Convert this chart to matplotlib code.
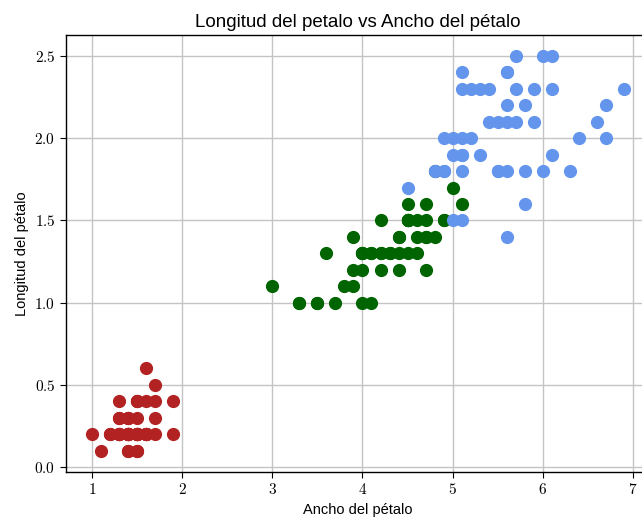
import numpy as np
import matplotlib
matplotlib.use("Agg")
import matplotlib.pyplot as plt
from matplotlib.ticker import FuncFormatter

plt.rcParams['font.family'] = ['Liberation Sans', 'DejaVu Sans']
plt.rcParams['mathtext.fontset'] = 'cm'

# iris: largo y ancho del petalo
setosa_x = [1.4, 1.4, 1.3, 1.5, 1.4, 1.7, 1.4, 1.5, 1.4, 1.5, 1.5, 1.6, 1.4, 1.1, 1.2, 1.5, 1.3, 1.4, 1.7, 1.5,
            1.7, 1.5, 1.0, 1.7, 1.9, 1.6, 1.6, 1.5, 1.4, 1.6, 1.6, 1.5, 1.5, 1.4, 1.5, 1.2, 1.3, 1.4, 1.3, 1.5,
            1.3, 1.3, 1.3, 1.6, 1.9, 1.4, 1.6, 1.4, 1.5, 1.4]
setosa_y = [0.2, 0.2, 0.2, 0.2, 0.2, 0.4, 0.3, 0.2, 0.2, 0.1, 0.2, 0.2, 0.1, 0.1, 0.2, 0.4, 0.4, 0.3, 0.3, 0.3,
            0.2, 0.4, 0.2, 0.5, 0.2, 0.2, 0.4, 0.2, 0.2, 0.2, 0.2, 0.4, 0.1, 0.2, 0.2, 0.2, 0.2, 0.1, 0.2, 0.2,
            0.3, 0.3, 0.2, 0.6, 0.4, 0.3, 0.2, 0.2, 0.2, 0.2]
versicolor_x = [4.7, 4.5, 4.9, 4.0, 4.6, 4.5, 4.7, 3.3, 4.6, 3.9, 3.5, 4.2, 4.0, 4.7, 3.6, 4.4, 4.5, 4.1, 4.5, 3.9,
                4.8, 4.0, 4.9, 4.7, 4.3, 4.4, 4.8, 5.0, 4.5, 3.5, 3.8, 3.7, 3.9, 5.1, 4.5, 4.5, 4.7, 4.4, 4.1, 4.0,
                4.4, 4.6, 4.0, 3.3, 4.2, 4.2, 4.2, 4.3, 3.0, 4.1]
versicolor_y = [1.4, 1.5, 1.5, 1.3, 1.5, 1.3, 1.6, 1.0, 1.3, 1.4, 1.0, 1.5, 1.0, 1.4, 1.3, 1.4, 1.5, 1.0, 1.5, 1.1,
                1.8, 1.3, 1.5, 1.2, 1.3, 1.4, 1.4, 1.7, 1.5, 1.0, 1.1, 1.0, 1.2, 1.6, 1.5, 1.6, 1.5, 1.3, 1.3, 1.3,
                1.2, 1.4, 1.2, 1.0, 1.3, 1.2, 1.3, 1.3, 1.1, 1.3]
virginica_x = [6.0, 5.1, 5.9, 5.6, 5.8, 6.6, 4.5, 6.3, 5.8, 6.1, 5.1, 5.3, 5.5, 5.0, 5.1, 5.3, 5.5, 6.7, 6.9, 5.0,
               5.7, 4.9, 6.7, 4.9, 5.7, 6.0, 4.8, 4.9, 5.6, 5.8, 6.1, 6.4, 5.6, 5.1, 5.6, 6.1, 5.6, 5.5, 4.8, 5.4,
               5.6, 5.1, 5.1, 5.9, 5.7, 5.2, 5.0, 5.2, 5.4, 5.1]
virginica_y = [2.5, 1.9, 2.1, 1.8, 2.2, 2.1, 1.7, 1.8, 1.8, 2.5, 2.0, 1.9, 2.1, 2.0, 2.4, 2.3, 1.8, 2.2, 2.3, 1.5,
               2.3, 2.0, 2.0, 1.8, 2.1, 1.8, 1.8, 1.8, 2.1, 1.6, 1.9, 2.0, 2.2, 1.5, 1.4, 2.3, 2.4, 1.8, 1.8, 2.1,
               2.4, 2.3, 1.9, 2.3, 2.5, 2.3, 1.9, 2.0, 2.3, 1.8]

fig = plt.figure(figsize=(6.42, 5.2), dpi=100)
ax = fig.add_axes([0.1023, 0.0923, 0.911, 0.8404])

ax.scatter(setosa_x, setosa_y, s=72, color='firebrick', zorder=3)
ax.scatter(versicolor_x, versicolor_y, s=72, color='darkgreen', zorder=3)
ax.scatter(virginica_x, virginica_y, s=72, color='cornflowerblue', zorder=3)

ax.set_xlim(0.708, 7.195)
ax.set_ylim(-0.03, 2.628)
ax.set_xticks([1, 2, 3, 4, 5, 6, 7])
ax.set_yticks([0.0, 0.5, 1.0, 1.5, 2.0, 2.5])
ax.xaxis.set_major_formatter(FuncFormatter(lambda v, p: '$%d$' % v))
ax.yaxis.set_major_formatter(FuncFormatter(lambda v, p: '$%.1f$' % v))
ax.tick_params(labelsize=11, direction='out', length=4, color='black')
ax.grid(True, color='#c4c4c4', linewidth=1, zorder=0)
ax.set_axisbelow(True)
for sp in ax.spines.values():
    sp.set_linewidth(1.0)

ax.set_title('Longitud del petalo vs Ancho del pétalo', fontsize=13.5)
ax.set_xlabel('Ancho del pétalo', fontsize=10.5)
ax.set_ylabel('Longitud del pétalo', fontsize=10.5)

fig.savefig('out.png', dpi=100)
